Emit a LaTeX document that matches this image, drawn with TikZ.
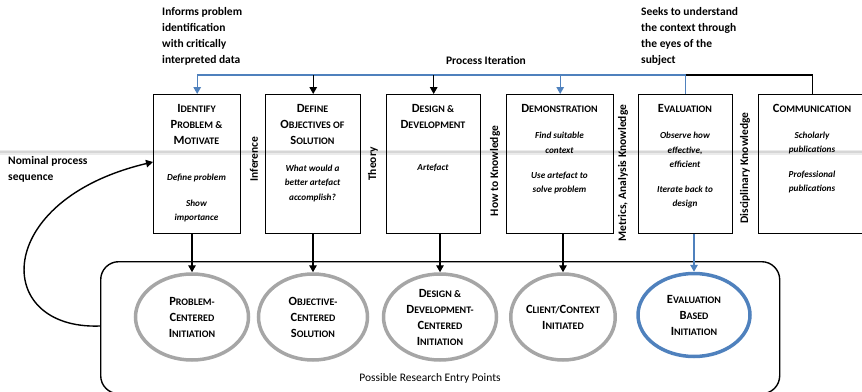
\documentclass[tikz,border=0pt]{standalone}
\usepackage{fontspec}
\setmainfont{Carlito}
\usetikzlibrary{arrows.meta,shapes.geometric}
\definecolor{iterblue}{HTML}{4F81BD}
\definecolor{ringgray}{HTML}{A6A6A6}
% hand-made small capitals: the argument is set as reduced upper case
\newcommand\smc[1]{{\fontsize{10}{12}\selectfont\uppercase{#1}}}
\begin{document}
\begin{tikzpicture}[x=1pt,y=-1pt,
  stagebox/.style={draw, line width=1.4pt, anchor=north west, inner sep=0pt},
  title/.style={font=\bfseries\fontsize{12.5}{16}\selectfont, align=center, inner sep=0pt},
  body/.style={font=\bfseries\itshape\fontsize{9.2}{14.5}\selectfont, align=center, inner sep=0pt},
  sidelabel/.style={font=\bfseries\fontsize{11.5}{13}\selectfont, rotate=90, inner sep=0pt},
  note/.style={font=\bfseries\fontsize{11.5}{16}\selectfont, align=left, anchor=north west, inner sep=0pt},
  entry/.style={ellipse, draw=ringgray, line width=3.5pt, align=center,
    font=\bfseries\fontsize{12.5}{16}\selectfont, inner sep=0pt,
    minimum width=113pt, minimum height=86pt},
  tip/.style={-{Triangle[length=7pt,width=7.5pt]}, line width=1.4pt}
]
\useasboundingbox (0,0) rectangle (862,391);

% soft grey guide line across the stages
\draw[line width=5pt, black!8] (0,152) -- (862,152);
\draw[line width=1.8pt, black!16] (0,152) -- (862,152);

% top annotations
\node[note] (informs) at (162,7) {Informs problem\\identification\\with critically\\interpreted data};
\node[note] (seeks) at (641,7) {Seeks to understand\\the context through\\the eyes of the\\subject};
\node[font=\bfseries\fontsize{11.5}{14}\selectfont, inner sep=0pt] (iterlabel) at (486,60) {Process Iteration};

% process stages
\node[stagebox, minimum width=87pt, minimum height=139pt] (b1) at (153,94) {};
\node[stagebox, minimum width=95pt, minimum height=139pt] (b2) at (265,94) {};
\node[stagebox, minimum width=94pt, minimum height=139pt] (b3) at (386,94) {};
\node[stagebox, minimum width=107pt, minimum height=139pt] (b4) at (506,94) {};
\node[stagebox, minimum width=94pt, minimum height=139pt] (b5) at (638,94) {};
\node[stagebox, minimum width=108pt, minimum height=139pt] (b6) at (758,94) {};

% stage titles
\node[title] (t1) at (196.5,124) {I\smc{dentify}\\P\smc{roblem \&}\\M\smc{otivate}};
\node[title] (t2) at (312.5,124) {D\smc{efine}\\O\smc{bjectives of}\\S\smc{olution}};
\node[title] (t3) at (433,116) {D\smc{esign \&}\\D\smc{evelopment}};
\node[title] (t4) at (559.5,108) {D\smc{emonstration}};
\node[title] (t5) at (685,108) {E\smc{valuation}};
\node[title] (t6) at (812,108) {C\smc{ommunication}};

% stage activities
\node[body] (a1) at (196.5,178) {Define problem};
\node[body] (a1b) at (196.5,211) {Show\\importance};
\node[body] (a2) at (312.5,183) {What would a\\better artefact\\accomplish?};
\node[body] (a3) at (433,168) {Artefact};
\node[body] (a4) at (559.5,143) {Find suitable\\context};
\node[body] (a4b) at (559.5,183) {Use artefact to\\solve problem};
\node[body] (a5) at (685,150) {Observe how\\effective,\\efficient};
\node[body] (a5b) at (685,197) {Iterate back to\\design};
\node[body] (a6) at (812,143) {Scholarly\\publications};
\node[body] (a6b) at (812,182) {Professional\\publications};

% knowledge between stages
\node[sidelabel] (k1) at (254,159) {Inference};
\node[sidelabel] (k2) at (373,164) {Theory};
\node[sidelabel] (k3) at (495,171) {How to Knowledge};
\node[sidelabel] (k4) at (623,173) {Metrics, Analysis Knowledge};
\node[sidelabel] (k5) at (745,168) {Disciplinary Knowledge};

% iteration bus
\coordinate (bus) at (0,75);
\draw[line width=1.4pt, iterblue] (b1.north |- bus) -- (b5.north |- bus);
\draw[line width=1.4pt] (b5.north |- bus) -- (b6.north |- bus) -- (b6.north);
\draw[line width=1.4pt, iterblue] (b5.north |- bus) -- (b5.north);
\draw[tip, iterblue] (b1.north |- bus) -- (b1.north);
\draw[tip] (b2.north |- bus) -- (b2.north);
\draw[tip] (b3.north |- bus) -- (b3.north);
\draw[tip, iterblue] (b4.north |- bus) -- (b4.north);

% entry points
\node[draw, rounded corners=18pt, line width=1.4pt, anchor=north west,
  minimum width=679pt, minimum height=132pt, inner sep=0pt] (rr) at (100,261) {};
\node[font=\fontsize{11.5}{14}\selectfont, inner sep=0pt] (entrylabel) at (430,378) {Possible Research Entry Points};

\node[entry] (e1) at (192,317) {P\smc{roblem-}\\C\smc{entered}\\I\smc{nitiation}};
\node[entry, minimum width=109pt] (e2) at (313,317) {O\smc{bjective-}\\C\smc{entered}\\S\smc{olution}};
\node[entry] (e3) at (440,317) {D\smc{esign \&}\\D\smc{evelopment-}\\C\smc{entered}\\I\smc{nitiation}};
\node[entry, minimum width=100pt] (e4) at (563,317) {C\smc{lient/}C\smc{ontext}\\I\smc{nitiated}};
\node[entry, draw=iterblue, minimum width=112pt, minimum height=83pt] (e5) at (694,315) {E\smc{valuation}\\B\smc{ased}\\I\smc{nitiation}};

\draw[tip] (b1.south -| e1.north) -- (e1.north);
\draw[tip] (b2.south -| e2.north) -- (e2.north);
\draw[tip] (b3.south -| e3.north) -- (e3.north);
\draw[tip] (b4.south -| e4.north) -- (e4.north);
\draw[tip, iterblue] (b5.south -| e5.north) -- (e5.north);

% nominal sequence loop
\node[note] (nominal) at (8,156) {Nominal process\\sequence};
\draw[tip] (rr.west |- 0,326) .. controls (-8,330) and (-8,200) .. (b1.west |- 0,162);
\end{tikzpicture}
\end{document}
